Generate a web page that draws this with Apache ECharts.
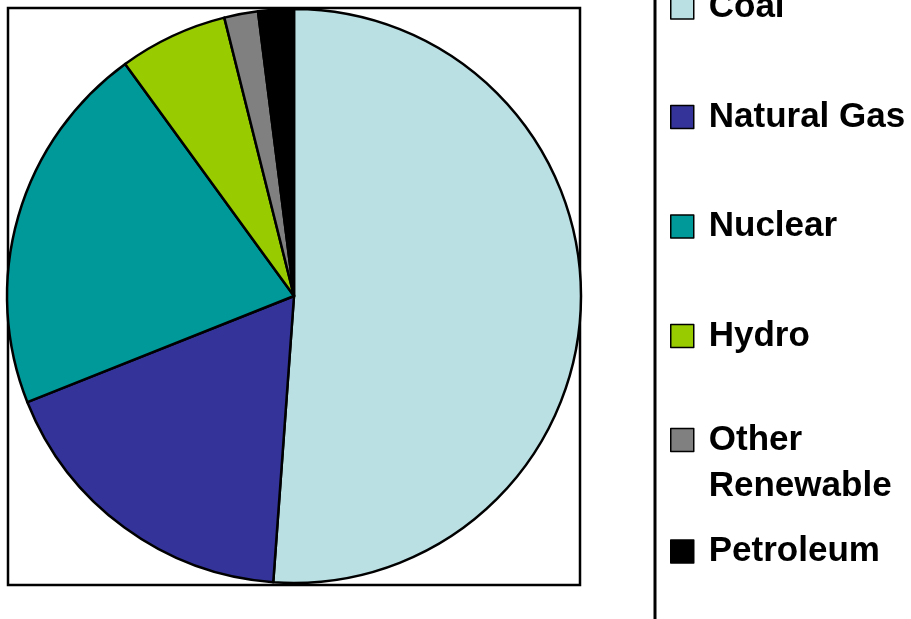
<!DOCTYPE html>
<html>
<head>
<meta charset="utf-8">
<script src="https://cdn.jsdelivr.net/npm/echarts@6/dist/echarts.min.js"></script>
<style>
  html, body { margin: 0; padding: 0; background: #fff; }
  #chart { width: 911px; height: 619px; }
</style>
</head>
<body>
<div id="chart"></div>
<script>
// electricity generation share (percent)
var categories = ['Coal', 'Natural Gas', 'Nuclear', 'Hydro', 'Other Renewable', 'Petroleum']
var values = [51.1, 17.8, 21.0, 6.1, 1.9, 2.0]
var colors = ['#BBE0E3', '#333399', '#009999', '#99CC00', '#808080', '#000000']

var font = { fontFamily: 'Liberation Sans, Arial, sans-serif', fontWeight: 'bold', fontSize: 35, color: '#000' }

function legendBox(names, top, gap, extra) {
  var ts = Object.assign({}, font, { padding: [0, 0, 0, 10] }, extra || {})
  return {
    orient: 'vertical',
    left: 670,
    top: top,
    padding: 0,
    itemGap: gap,
    itemWidth: 23,
    itemHeight: 23,
    icon: 'rect',
    selectedMode: false,
    data: names,
    itemStyle: { borderColor: '#000', borderWidth: 1.5 },
    textStyle: ts,
    // blank first line keeps the icon level with "Other"
    formatter: function (n) {
      return n === 'Other Renewable' ? '\nOther\nRenewable' : n
    }
  }
}

var chart = echarts.init(document.getElementById('chart'))
chart.setOption({
  animation: false,
  color: colors,
  legend: [
    legendBox(categories.slice(0, 4), -10, 74.5),
    legendBox(['Other Renewable'], 371, 10, { lineHeight: 46 }),
    legendBox(['Petroleum'], 534, 10)
  ],
  graphic: [
    {
      type: 'rect', z: -1,
      shape: { x: 8, y: 8, width: 572, height: 577 },
      style: { fill: 'none', stroke: '#000', lineWidth: 2.5 }
    },
    {
      type: 'line',
      shape: { x1: 655, y1: 0, x2: 655, y2: 619 },
      style: { stroke: '#000', lineWidth: 3 }
    }
  ],
  series: [{
    type: 'pie',
    center: [294, 296],
    radius: 287,
    startAngle: 90,
    clockwise: true,
    label: { show: false },
    labelLine: { show: false },
    emphasis: { disabled: true },
    itemStyle: { borderColor: '#000', borderWidth: 2.5 },
    data: categories.map(function (c, i) {
      return { name: c, value: values[i] }
    })
  }]
})
</script>
</body>
</html>
